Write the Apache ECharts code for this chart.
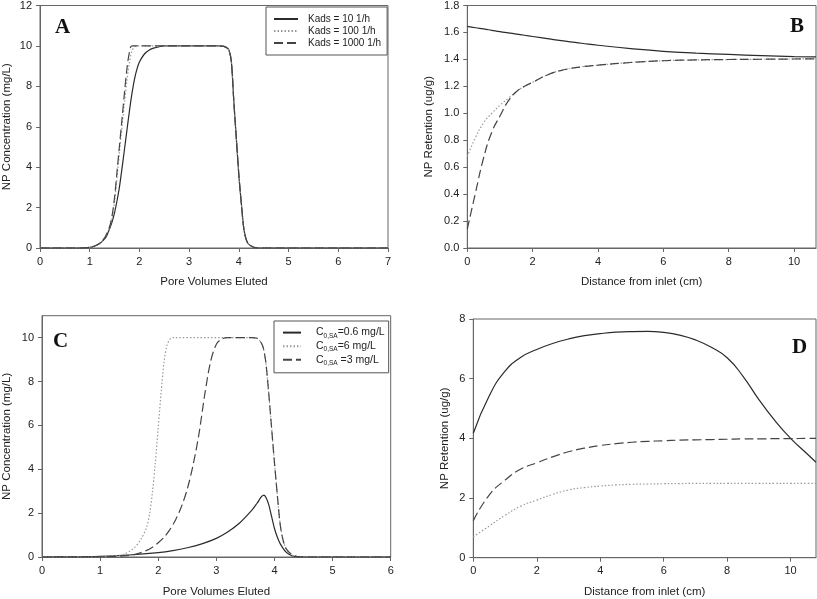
<!DOCTYPE html>
<html>
<head>
<meta charset="utf-8">
<script src="https://cdn.jsdelivr.net/npm/echarts@6/dist/echarts.min.js"></script>
<style>
html, body { margin: 0; padding: 0; background: #fff; }
#chart { width: 817px; height: 599px; }
</style>
</head>
<body>
<div id="chart"></div>
<script>
// Panel A - breakthrough curves, different Kads
var aX10 = [0, 0.8, 1.0, 1.1, 1.2, 1.3, 1.35, 1.4, 1.45, 1.5, 1.55, 1.6, 1.65, 1.7, 1.75, 1.8, 1.85, 1.9, 1.95, 2.0, 2.1, 2.2, 2.3, 2.4, 2.5, 3.6, 3.7, 3.75, 3.8, 3.85, 3.9, 3.95, 4.0, 4.05, 4.1, 4.15, 4.2, 4.3, 4.4, 7];
var aY10 = [0, 0, 0.03, 0.1, 0.22, 0.45, 0.65, 0.95, 1.3, 1.75, 2.35, 3.05, 3.95, 4.9, 5.85, 6.8, 7.65, 8.35, 8.85, 9.2, 9.6, 9.8, 9.9, 9.96, 10, 10, 9.98, 9.92, 9.8, 9.2, 7.2, 5.4, 3.6, 2.2, 0.95, 0.4, 0.18, 0.04, 0, 0];
var aX100 = [0, 0.8, 1.0, 1.1, 1.2, 1.3, 1.35, 1.4, 1.45, 1.5, 1.55, 1.6, 1.65, 1.7, 1.75, 1.8, 1.85, 1.9, 1.95, 3.6, 3.7, 3.75, 3.8, 3.85, 3.9, 3.95, 4.0, 4.05, 4.1, 4.15, 4.2, 4.3, 4.4, 7];
var aY100 = [0, 0, 0.03, 0.1, 0.23, 0.48, 0.7, 1.0, 1.5, 2.3, 3.5, 4.8, 6.0, 7.2, 8.3, 9.2, 9.75, 9.95, 10, 10, 9.98, 9.92, 9.8, 9.2, 7.2, 5.4, 3.6, 2.2, 0.95, 0.4, 0.18, 0.04, 0, 0];
var aX1000 = [0, 0.8, 1.0, 1.1, 1.2, 1.3, 1.35, 1.4, 1.45, 1.5, 1.55, 1.6, 1.65, 1.7, 1.75, 1.8, 1.85, 3.6, 3.7, 3.75, 3.8, 3.85, 3.9, 3.95, 4.0, 4.05, 4.1, 4.15, 4.2, 4.3, 4.4, 7];
var aY1000 = [0, 0, 0.03, 0.1, 0.23, 0.5, 0.75, 1.05, 1.6, 2.5, 3.8, 5.1, 6.4, 7.7, 8.9, 9.7, 10, 10, 9.98, 9.92, 9.8, 9.2, 7.2, 5.4, 3.6, 2.2, 0.95, 0.4, 0.18, 0.04, 0, 0];

// Panel B - retention profiles, different Kads
var bX = [0, 0.25, 0.5, 0.75, 1, 1.25, 1.5, 1.75, 2, 2.5, 3, 3.5, 4, 5, 6, 7, 8, 9, 10, 10.67];
var bY10 = [1.645, 1.635, 1.626, 1.616, 1.606, 1.597, 1.588, 1.579, 1.57, 1.552, 1.535, 1.52, 1.505, 1.48, 1.46, 1.447, 1.437, 1.428, 1.421, 1.418];
var bY100 = [0.68, 0.82, 0.93, 1.0, 1.06, 1.11, 1.16, 1.2, 1.23, 1.29, 1.325, 1.345, 1.357, 1.377, 1.39, 1.396, 1.399, 1.401, 1.403, 1.404];
var bY1000 = [0.14, 0.41, 0.67, 0.86, 0.98, 1.09, 1.16, 1.2, 1.23, 1.29, 1.325, 1.345, 1.357, 1.377, 1.39, 1.396, 1.399, 1.401, 1.403, 1.404];

// Panel C - breakthrough curves, different C0,SA
var cX06 = [0, 0.5, 1.0, 1.5, 2.0, 2.25, 2.5, 2.75, 3.0, 3.2, 3.4, 3.6, 3.7, 3.78, 3.82, 3.86, 3.9, 3.95, 4.0, 4.05, 4.1, 4.2, 4.3, 4.4, 4.5, 6];
var cY06 = [0, 0.005, 0.03, 0.09, 0.2, 0.29, 0.42, 0.6, 0.85, 1.15, 1.55, 2.1, 2.45, 2.76, 2.82, 2.68, 2.4, 1.85, 1.3, 0.9, 0.6, 0.22, 0.06, 0.01, 0, 0];
var cX6 = [0, 1.0, 1.2, 1.4, 1.5, 1.6, 1.7, 1.8, 1.85, 1.9, 1.95, 2.0, 2.05, 2.1, 2.15, 2.2, 2.25, 3.6, 3.7, 3.75, 3.8, 3.85, 3.9, 3.95, 4.0, 4.05, 4.1, 4.15, 4.2, 4.3, 4.4, 4.5, 6];
var cY6 = [0, 0.01, 0.04, 0.12, 0.25, 0.45, 0.8, 1.35, 1.95, 2.95, 4.3, 5.9, 7.5, 8.9, 9.65, 9.92, 10, 10, 9.97, 9.85, 9.6, 8.9, 7.5, 5.9, 4.3, 2.8, 1.45, 0.75, 0.38, 0.1, 0.02, 0, 0];
var cX3 = [0, 1.0, 1.4, 1.6, 1.8, 1.9, 2.0, 2.1, 2.2, 2.3, 2.4, 2.5, 2.6, 2.7, 2.8, 2.9, 3.0, 3.1, 3.2, 3.6, 3.7, 3.75, 3.8, 3.85, 3.9, 3.95, 4.0, 4.05, 4.1, 4.15, 4.2, 4.3, 4.4, 4.5, 6];
var cY3 = [0, 0.01, 0.05, 0.12, 0.3, 0.45, 0.65, 0.9, 1.25, 1.7, 2.3, 3.1, 4.2, 5.6, 7.4, 8.9, 9.7, 9.95, 10, 10, 9.97, 9.85, 9.6, 8.9, 7.5, 5.9, 4.3, 2.8, 1.45, 0.75, 0.38, 0.1, 0.02, 0, 0];

// Panel D - retention profiles, different C0,SA
var dX = [0, 0.5, 1, 1.5, 2, 2.5, 3, 3.5, 4, 4.5, 5, 5.5, 6, 6.5, 7, 7.5, 8, 8.5, 9, 9.5, 10, 10.5, 10.8];
var dY06 = [4.17, 5.42, 6.25, 6.72, 6.98, 7.18, 7.33, 7.44, 7.51, 7.56, 7.58, 7.585, 7.55, 7.46, 7.3, 7.05, 6.7, 6.08, 5.3, 4.6, 4.0, 3.5, 3.2];
var dY6 = [0.7, 1.06, 1.42, 1.73, 1.93, 2.12, 2.27, 2.35, 2.4, 2.44, 2.46, 2.47, 2.48, 2.485, 2.49, 2.49, 2.49, 2.49, 2.49, 2.49, 2.49, 2.49, 2.49];
var dY3 = [1.24, 2.1, 2.6, 2.97, 3.18, 3.38, 3.55, 3.67, 3.76, 3.82, 3.87, 3.9, 3.92, 3.94, 3.95, 3.96, 3.97, 3.98, 3.98, 3.99, 3.99, 4.0, 4.0];

var aNames = ['Kads = 10 1/h', 'Kads = 100 1/h', 'Kads = 1000 1/h'];
var cNames = ['C0,SA=0.6 mg/L', 'C0,SA=6 mg/L', 'C0,SA =3 mg/L'];

function pts(xs, ys) {
	return xs.map(function (x, i) { return [x, ys[i]]; });
}

var FONT = 'Liberation Sans';
var solidStyle = { color: '#2b2b2b', width: 1.2, type: 'solid' };
var dotStyle = { color: '#9a9a9a', width: 1.2, type: [1.5, 2] };
var dashStyle = { color: '#444', width: 1.2, type: [9, 4] };

function line(name, xi, data, style) {
	return {
		name: name, type: 'line', xAxisIndex: xi, yAxisIndex: xi,
		data: data, showSymbol: false, symbol: 'none', smooth: xi % 2 ? 0.5 : 0.3,
		lineStyle: style, itemStyle: { color: style.color }, z: 3
	};
}

function xAx(gi, max, nm, gap, showMax) {
	return {
		gridIndex: gi, type: 'value', min: 0, max: max, interval: gi % 2 ? 2 : 1,
		name: nm, nameLocation: 'middle', nameGap: gap,
		nameTextStyle: { fontFamily: FONT, fontSize: 11.5, color: '#222' },
		axisLine: { lineStyle: { color: '#666' } },
		axisTick: { length: 4, lineStyle: { color: '#666' } },
		axisLabel: { fontFamily: FONT, fontSize: 11, color: '#222', margin: 8, showMaxLabel: showMax },
		splitLine: { show: false }
	};
}

function yAx(gi, max, itv, nm, gap, showMax, fmt) {
	return {
		gridIndex: gi, type: 'value', min: 0, max: max, interval: itv,
		name: nm, nameLocation: 'middle', nameGap: gap,
		nameTextStyle: { fontFamily: FONT, fontSize: 11.5, color: '#222' },
		axisLine: { show: true, lineStyle: { color: '#666' } },
		axisTick: { show: true, length: 4, lineStyle: { color: '#666' } },
		axisLabel: { fontFamily: FONT, fontSize: 11, color: '#222', margin: 8, formatter: fmt, showMaxLabel: showMax },
		splitLine: { show: false }
	};
}

var myChart = echarts.init(document.getElementById('chart'));
var option = {
	animation: false,
	backgroundColor: '#fff',
	grid: [
		{ left: 39.5, top: 4, width: 348.5, height: 244, show: true, borderColor: '#666', borderWidth: 1 },
		{ left: 467.3, top: 4, width: 348.7, height: 244, show: true, borderColor: '#666', borderWidth: 1 },
		{ left: 41.7, top: 315.7, width: 349, height: 243.3, show: true, borderColor: '#666', borderWidth: 1 },
		{ left: 473.3, top: 319, width: 342.7, height: 238.7, show: true, borderColor: '#666', borderWidth: 1 }
	],
	xAxis: [
		xAx(0, 7, 'Pore Volumes Eluted', 28, true),
		xAx(1, 10.67, 'Distance from inlet (cm)', 28, false),
		xAx(2, 6, 'Pore Volumes Eluted', 29, true),
		xAx(3, 10.8, 'Distance from inlet (cm)', 28, false)
	],
	yAxis: [
		yAx(0, 12, 2, 'NP Concentration (mg/L)', 27, true),
		yAx(1, 1.8, 0.2, 'NP Retention (ug/g)', 32, true, function (v) { return v.toFixed(1); }),
		yAx(2, 11, 2, 'NP Concentration (mg/L)', 29, false),
		yAx(3, 8, 2, 'NP Retention (ug/g)', 22, true)
	],
	legend: [
		{
			data: aNames, orient: 'vertical', left: 266, top: 7,
			padding: [7, 6, 7, 7], itemGap: 2, itemWidth: 24, itemHeight: 12,
			borderColor: '#555', borderWidth: 1, backgroundColor: '#fff',
			selectedMode: false,
			itemStyle: { opacity: 0 },
			lineStyle: { opacity: 1 },
			textStyle: { fontFamily: FONT, fontSize: 10, color: '#222', padding: [0, 0, 0, 5] }
		},
		{
			data: cNames, orient: 'vertical', left: 274, top: 321,
			padding: [6, 4, 6, 8], itemGap: 1, itemWidth: 18, itemHeight: 14,
			borderColor: '#555', borderWidth: 1, backgroundColor: '#fff',
			selectedMode: false,
			itemStyle: { opacity: 0 },
			lineStyle: { opacity: 1 },
			formatter: function (n) {
				return '{b|C}{s|0,SA}{b|' + n.slice(5) + '}';
			},
			textStyle: {
				fontFamily: FONT, fontSize: 11, color: '#222', padding: [0, 0, 0, 10],
				rich: {
					b: { fontFamily: FONT, fontSize: 10.5, color: '#222', lineHeight: 14 },
					s: { fontFamily: FONT, fontSize: 6.5, color: '#222', lineHeight: 14, verticalAlign: 'bottom', padding: [5, 0, 0, 0] }
				}
			}
		}
	],
	graphic: [
		{ type: 'text', left: 55, top: 17, style: { text: 'A', font: 'bold 21px "Liberation Serif"', fill: '#111' } },
		{ type: 'text', left: 790, top: 16, style: { text: 'B', font: 'bold 21px "Liberation Serif"', fill: '#111' } },
		{ type: 'text', left: 53, top: 331, style: { text: 'C', font: 'bold 21px "Liberation Serif"', fill: '#111' } },
		{ type: 'text', left: 792, top: 337, style: { text: 'D', font: 'bold 21px "Liberation Serif"', fill: '#111' } }
	],
	series: [
		line(aNames[0], 0, pts(aX10, aY10), solidStyle),
		line(aNames[1], 0, pts(aX100, aY100), dotStyle),
		line(aNames[2], 0, pts(aX1000, aY1000), dashStyle),
		line('B 10', 1, pts(bX, bY10), solidStyle),
		line('B 100', 1, pts(bX, bY100), dotStyle),
		line('B 1000', 1, pts(bX, bY1000), dashStyle),
		line(cNames[0], 2, pts(cX06, cY06), solidStyle),
		line(cNames[1], 2, pts(cX6, cY6), dotStyle),
		line(cNames[2], 2, pts(cX3, cY3), dashStyle),
		line('D 0.6', 3, pts(dX, dY06), solidStyle),
		line('D 6', 3, pts(dX, dY6), dotStyle),
		line('D 3', 3, pts(dX, dY3), dashStyle)
	]
};
myChart.setOption(option);
</script>
</body>
</html>
